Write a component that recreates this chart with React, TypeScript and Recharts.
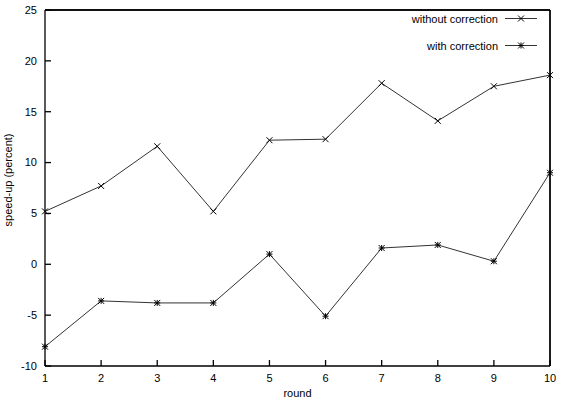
import { LineChart, Line, XAxis, YAxis, ReferenceLine } from "recharts";

const ROUNDS = [1, 2, 3, 4, 5, 6, 7, 8, 9, 10];
const WITHOUT = [5.2, 7.7, 11.6, 5.2, 12.2, 12.3, 17.8, 14.1, 17.5, 18.6];
const WITH = [-8.1, -3.6, -3.8, -3.8, 1.0, -5.1, 1.6, 1.9, 0.3, 9.0];
const Y_TICKS = [-10, -5, 0, 5, 10, 15, 20, 25];

const FONT = "'Liberation Sans', Arial, sans-serif";
const LINE = "#333";
const AXIS = { stroke: "#000", strokeWidth: 1.3 };

const data = ROUNDS.map((r, i) => ({ round: r, without: WITHOUT[i], with: WITH[i] }));

// gnuplot point types: 2 = x, 3 = * (x plus +)
const Cross = ({ cx, cy, star }: { cx: number; cy: number; star?: boolean }) => (
  <g stroke="#000" strokeWidth={1}>
    <line x1={cx - 3} y1={cy - 3} x2={cx + 3} y2={cy + 3} />
    <line x1={cx - 3} y1={cy + 3} x2={cx + 3} y2={cy - 3} />
    {star && <line x1={cx - 3} y1={cy} x2={cx + 3} y2={cy} />}
    {star && <line x1={cx} y1={cy - 3} x2={cx} y2={cy + 3} />}
  </g>
);

const dotX = (p: any) => <Cross key={`a${p.index}`} cx={p.cx} cy={p.cy} />;
const dotStar = (p: any) => <Cross key={`b${p.index}`} cx={p.cx} cy={p.cy} star />;

const LEGEND = [
  { name: "without correction", star: false },
  { name: "with correction", star: true },
];

export default function App() {
  return (
    <div style={{ position: "absolute", left: 0, top: 0, width: 561, height: 400, background: "#fff" }}>
      <LineChart width={561} height={400} data={data} margin={{ top: 0, right: 1, left: 0, bottom: 0 }}>
        <XAxis
          xAxisId="b"
          dataKey="round"
          type="number"
          domain={[1, 10]}
          ticks={ROUNDS}
          height={34}
          tickSize={-6}
          tickMargin={14}
          axisLine={AXIS}
          tickLine={AXIS}
          tick={{ fill: "#000", fontSize: 11, fontFamily: FONT }}
          label={(p: any) => {
            const vb = p.viewBox;
            return (
              <text x={vb.x + vb.width / 2} y={397} textAnchor="middle" fontSize={11} fontFamily={FONT} fill="#000">
                round
              </text>
            );
          }}
        />
        <XAxis
          xAxisId="t"
          orientation="top"
          dataKey="round"
          type="number"
          domain={[1, 10]}
          ticks={ROUNDS}
          height={10}
          tickSize={-6}
          axisLine={AXIS}
          tickLine={AXIS}
          tick={false}
        />
        <YAxis
          yAxisId="l"
          type="number"
          domain={[-10, 25]}
          ticks={Y_TICKS}
          width={45}
          tickSize={-6}
          tickMargin={14}
          axisLine={AXIS}
          tickLine={AXIS}
          tick={{ fill: "#000", fontSize: 11, fontFamily: FONT }}
          label={() => (
            <text
              x={12}
              y={180}
              transform="rotate(-90 12 180)"
              textAnchor="middle"
              fontSize={11}
              fontFamily={FONT}
              fill="#000"
            >
              speed-up (percent)
            </text>
          )}
        />
        <YAxis
          yAxisId="r"
          orientation="right"
          type="number"
          domain={[-10, 25]}
          ticks={Y_TICKS}
          width={10}
          tickSize={-6}
          axisLine={AXIS}
          tickLine={AXIS}
          tick={false}
        />
        {/* frame edges on top and right, like gnuplot's border */}
        <ReferenceLine xAxisId="b" yAxisId="l" y={25} stroke="#000" strokeWidth={1.3} />
        <ReferenceLine xAxisId="b" yAxisId="l" x={10} stroke="#000" strokeWidth={1.3} />
        {/* invisible series so the mirrored top/right axes get drawn */}
        <Line
          xAxisId="t"
          yAxisId="r"
          dataKey="without"
          stroke="none"
          dot={false}
          activeDot={false}
          legendType="none"
          isAnimationActive={false}
        />
        <Line
          xAxisId="b"
          yAxisId="l"
          dataKey="without"
          name="without correction"
          stroke={LINE}
          strokeWidth={1}
          dot={dotX}
          isAnimationActive={false}
        />
        <Line
          xAxisId="b"
          yAxisId="l"
          dataKey="with"
          name="with correction"
          stroke={LINE}
          strokeWidth={1}
          dot={dotStar}
          isAnimationActive={false}
        />
      </LineChart>
      <div style={{ position: "absolute", top: 12, right: 24, fontFamily: FONT, fontSize: 11, color: "#000" }}>
        {LEGEND.map((e) => (
          <div key={e.name} style={{ display: "flex", alignItems: "center", justifyContent: "flex-end", height: 13, marginBottom: 14 }}>
            <span>{e.name}</span>
            <svg width={32} height={13} style={{ marginLeft: 7 }}>
              <line x1={0} y1={6.5} x2={32} y2={6.5} stroke={LINE} strokeWidth={1} />
              <Cross cx={16} cy={6.5} star={e.star} />
            </svg>
          </div>
        ))}
      </div>
    </div>
  );
}
